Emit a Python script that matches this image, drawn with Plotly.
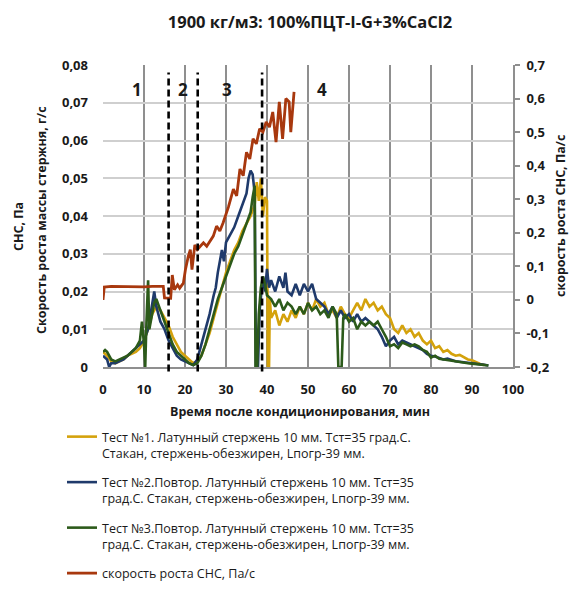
import plotly.graph_objects as go

# ---------------- data ----------------
t1_x = [0, 1, 2, 3, 4, 5, 6, 7, 8, 9, 10, 11, 12, 13, 14, 15, 16, 17, 18, 19, 20, 21, 22, 23, 24, 25, 26, 27, 28, 29,
        30, 31, 32, 33, 34, 35, 36, 37, 37.5, 38, 38.5, 39, 39.5, 40, 40.2, 40.5, 40.7, 41, 42, 43, 44, 45, 46, 47, 48,
        49, 50, 51, 52, 53, 54, 55, 56, 57, 58, 59, 60, 61, 62, 63, 64, 65, 66, 67, 68, 69, 70, 71, 72, 73, 74, 75, 76,
        77, 78, 79, 80, 81, 82, 83, 84, 85, 86, 87, 88, 89, 90, 91, 92, 93]
t1_y = [0.004, 0.003, 0.0015, 0.001, 0.0015, 0.002, 0.003, 0.0035, 0.004, 0.005, 0.007, 0.010, 0.014, 0.016, 0.015,
        0.013, 0.011, 0.008, 0.006, 0.004, 0.003, 0.002, 0.001, 0.0015, 0.003, 0.006, 0.009, 0.013, 0.017, 0.021,
        0.025, 0.028, 0.031, 0.033, 0.036, 0.038, 0.040, 0.043, 0.049, 0.044, 0.050, 0.040, 0.045, 0.044, 0.0, 0.0,
        0.018, 0.013, 0.015, 0.011, 0.014, 0.012, 0.015, 0.013, 0.016, 0.014, 0.017, 0.015, 0.018, 0.016, 0.017,
        0.014, 0.015, 0.013, 0.016, 0.014, 0.013, 0.015, 0.017, 0.015, 0.018, 0.016, 0.017, 0.015, 0.016, 0.014,
        0.013, 0.010, 0.009, 0.011, 0.009, 0.010, 0.008, 0.009, 0.007, 0.006, 0.007, 0.005, 0.0055, 0.004, 0.0045,
        0.0035, 0.003, 0.0032, 0.0025, 0.002, 0.0018, 0.0012, 0.0008, 0.0005]

t2_x = [0, 1, 1.5, 2, 3, 4, 5, 6, 7, 8, 9, 10, 11, 12, 12.5, 13, 14, 15, 16, 17, 18, 19, 20, 21, 22, 23, 24, 25, 26,
        27, 27.5, 28, 29, 29.5, 30, 31, 32, 33, 34, 35, 35.5, 36, 36.5, 37, 37.3, 37.8, 38.2, 38.6, 39, 39.5, 40,
        40.5, 41, 42, 43, 44, 44.5, 45, 46, 47, 48, 49, 50, 51, 52, 53, 54, 55, 56, 57, 58, 59, 60, 61, 62, 63, 64,
        65, 66, 67, 68, 69, 70, 71, 72, 73, 74, 75, 76, 77, 78, 79, 80, 81, 82, 83, 84, 85, 86, 87, 88, 89, 90, 91,
        92, 93, 94]
t2_y = [0.003, 0.002, 0.0, 0.001, 0.001, 0.0015, 0.002, 0.003, 0.004, 0.005, 0.006, 0.007, 0.010, 0.017, 0.020,
        0.016, 0.012, 0.010, 0.007, 0.005, 0.003, 0.002, 0.0015, 0.001, 0.0005, 0.002, 0.006, 0.010, 0.014, 0.019,
        0.021, 0.025, 0.031, 0.028, 0.033, 0.035, 0.037, 0.040, 0.043, 0.046, 0.050, 0.052, 0.051, 0.046, 0.0, 0.0,
        0.015, 0.020, 0.024, 0.020, 0.026, 0.021, 0.023, 0.020, 0.024, 0.021, 0.025, 0.020, 0.019, 0.022, 0.019,
        0.022, 0.020, 0.022, 0.018, 0.017, 0.016, 0.014, 0.016, 0.013, 0.015, 0.013, 0.014, 0.012, 0.014, 0.012,
        0.013, 0.012, 0.011, 0.010, 0.008, 0.0055, 0.007, 0.008, 0.006, 0.007, 0.0065, 0.006, 0.0055, 0.005, 0.0045,
        0.0035, 0.003, 0.0028, 0.0025, 0.002, 0.0022, 0.0018, 0.0015, 0.0014, 0.0013, 0.0012, 0.001, 0.001, 0.0008,
        0.0006, 0.0004]

t3_x = [0, 0.5, 1, 2, 3, 4, 5, 6, 7, 8, 9, 9.5, 10, 10.3, 10.6, 11, 11.3, 12, 12.5, 13, 14, 15, 16, 17, 18, 19, 20,
        21, 22, 23, 24, 25, 26, 27, 28, 29, 30, 31, 32, 33, 34, 35, 36, 36.5, 37, 37.2, 37.6, 38, 38.5, 39, 39.5,
        40, 41, 42, 43, 44, 45, 46, 47, 48, 49, 50, 51, 52, 53, 54, 55, 56, 57, 57.4, 58.2, 58.6, 59, 60, 61, 62, 63,
        64, 65, 66, 67, 68, 69, 70, 71, 72, 73, 74, 75, 76, 77, 78, 79, 80, 81, 82, 83, 84, 85, 86, 87, 88, 89, 90,
        91, 92, 93, 94]
t3_y = [0.004, 0.0045, 0.004, 0.002, 0.0015, 0.002, 0.0025, 0.003, 0.004, 0.005, 0.007, 0.012, 0.006, 0.0, 0.012,
        0.023, 0.010, 0.014, 0.017, 0.018, 0.015, 0.012, 0.009, 0.006, 0.004, 0.003, 0.002, 0.001, 0.0005, 0.001,
        0.003, 0.006, 0.010, 0.014, 0.018, 0.021, 0.024, 0.027, 0.030, 0.032, 0.035, 0.038, 0.041, 0.045, 0.048,
        0.0, 0.0, 0.014, 0.021, 0.024, 0.022, 0.019, 0.018, 0.016, 0.018, 0.015, 0.017, 0.016, 0.014, 0.016, 0.014,
        0.017, 0.015, 0.016, 0.014, 0.015, 0.013, 0.016, 0.014, 0.0, 0.0, 0.013, 0.014, 0.012, 0.013, 0.010, 0.012,
        0.011, 0.012, 0.011, 0.012, 0.010, 0.008, 0.0055, 0.006, 0.005, 0.0065, 0.006, 0.0055, 0.006, 0.0055,
        0.0045, 0.004, 0.0025, 0.003, 0.0022, 0.002, 0.0018, 0.0016, 0.0015, 0.0013, 0.0012, 0.001, 0.0009,
        0.0008, 0.0006, 0.0005, 0.0004]

sns_x = [0, 0.3, 2, 5, 8, 10, 12, 14.7, 15.0, 16.0, 16.5, 16.9, 17.4, 18.2, 18.7, 19.6, 20.1, 20.8, 21.3, 21.7, 22.4,
         23.0, 23.8, 24.5, 25.3, 26.1, 26.9, 27.7, 28.5, 29.3, 30.6, 31.8, 32.6, 33.4, 34.2, 35.0, 35.8, 36.6, 37.4,
         38.2, 39.0, 39.8, 40.6, 41.4, 42.2, 43.0, 43.8, 44.6, 45.4, 45.8, 46.6]
sns_y = [0.0, 0.038, 0.040, 0.039, 0.040, 0.039, 0.040, 0.040, 0.006, 0.004, 0.005, 0.074, 0.030, 0.045, 0.035,
         0.050, 0.090, 0.130, 0.150, 0.090, 0.164, 0.150, 0.160, 0.170, 0.160, 0.175, 0.190, 0.220, 0.205, 0.230,
         0.277, 0.330, 0.310, 0.390, 0.370, 0.440, 0.420, 0.480, 0.465, 0.510, 0.500, 0.530, 0.515, 0.560, 0.470,
         0.590, 0.480, 0.600, 0.590, 0.500, 0.620]

stage_bounds = [16.0, 23.1, 38.8]
stage_labels = ["1", "2", "3", "4"]
stage_label_x = [8.3, 19.6, 30.2, 53.5]

x_ticks = [0, 10, 20, 30, 40, 50, 60, 70, 80, 90, 100]
y_ticks = [0, 0.01, 0.02, 0.03, 0.04, 0.05, 0.06, 0.07, 0.08]
y_tick_text = ["0", "0,01", "0,02", "0,03", "0,04", "0,05", "0,06", "0,07", "0,08"]
y2_ticks = [-0.2, -0.1, 0, 0.1, 0.2, 0.3, 0.4, 0.5, 0.6, 0.7]
y2_tick_text = ["-0,2", "-0,1", "0", "0,1", "0,2", "0,3", "0,4", "0,5", "0,6", "0,7"]

names = [
    "Тест №1. Латунный стержень 10 мм. Тст=35 град.С.<br>Стакан, стержень-обезжирен, Lпогр-39 мм.",
    "Тест №2.Повтор. Латунный стержень 10 мм. Тст=35<br>град.С. Стакан, стержень-обезжирен, Lпогр-39 мм.",
    "Тест №3.Повтор. Латунный стержень 10 мм. Тст=35<br>град.С. Стакан, стержень-обезжирен, Lпогр-39 мм.",
    "скорость роста СНС, Па/с",
]
colors = ["#D4A20C", "#1F3A6B", "#2C5A1A", "#A8380E"]

FONT = "Open Sans, Noto Sans, sans-serif"
TXT = "#1a1a1a"

fig = go.Figure()
for i, (xs, ys) in enumerate([(t1_x, t1_y), (t2_x, t2_y), (t3_x, t3_y)]):
    fig.add_trace(go.Scatter(x=xs, y=ys, mode="lines", name=names[i], legendgroup=f"g{i}",
                             line=dict(color=colors[i], width=2.6)))
fig.add_trace(go.Scatter(x=sns_x, y=sns_y, mode="lines", name=names[3], yaxis="y2", legendgroup="g3",
                         line=dict(color=colors[3], width=2.8)))

shapes = []
for b in stage_bounds:
    shapes.append(dict(type="line", xref="x", yref="paper", x0=b, x1=b, y0=-0.015, y1=0.975,
                       line=dict(color="black", width=2.6, dash="7px,4px"), layer="above"))

annotations = []
for lab, lx in zip(stage_labels, stage_label_x):
    annotations.append(dict(x=lx, y=0.0735, xref="x", yref="y", text=f"<b>{lab}</b>", showarrow=False,
                            font=dict(family=FONT, size=17, color=TXT)))
annotations += [
    dict(x=(300 - 103) / 410, y=-(411 - 367) / 302, xref="paper", yref="paper",
         text="<b>Время после кондиционирования, мин</b>", showarrow=False,
         font=dict(family=FONT, size=12.5, color=TXT), xanchor="center", yanchor="middle"),
    dict(x=(41 - 103) / 410, y=(367 - 220) / 302, xref="paper", yref="paper",
         text="<b>Скорость роста массы стержня, г/с</b>", showarrow=False, textangle=-90,
         font=dict(family=FONT, size=12.5, color=TXT), xanchor="center", yanchor="middle"),
    dict(x=(18 - 103) / 410, y=(367 - 227) / 302, xref="paper", yref="paper",
         text="<b>СНС, Па</b>", showarrow=False, textangle=-90,
         font=dict(family=FONT, size=12.5, color=TXT), xanchor="center", yanchor="middle"),
    dict(x=(560 - 103) / 410, y=(367 - 216) / 302, xref="paper", yref="paper",
         text="<b>скорость роста СНС, Па/с</b>", showarrow=False, textangle=-90,
         font=dict(family=FONT, size=12.5, color=TXT), xanchor="center", yanchor="middle"),
]

fig.update_layout(
    width=572, height=590,
    margin=dict(l=103, r=59, t=65, b=223, autoexpand=False),
    paper_bgcolor="white", plot_bgcolor="white",
    font=dict(family=FONT, color=TXT),
    title=dict(text="<b>1900 кг/м3: 100%ПЦТ-I-G+3%CaCl2</b>", x=310 / 572, y=1 - 22 / 590,
               xanchor="center", yanchor="middle", font=dict(family=FONT, size=16.5, color=TXT)),
    xaxis=dict(range=[0, 100], tickvals=x_ticks, showgrid=True, gridcolor="#8f8f8f", gridwidth=1.6,
               zeroline=False, showline=True, linecolor="#8f8f8f", linewidth=1.6, ticks="",
               ticklabelstandoff=10, tickfont=dict(family=FONT, size=13, color=TXT, weight="bold")),
    yaxis=dict(range=[0, 0.08], tickvals=y_ticks, ticktext=y_tick_text, showgrid=True, gridcolor="#cfcfcf",
               gridwidth=1.5, zeroline=False, ticks="", ticklabelstandoff=14,
               tickfont=dict(family=FONT, size=13, color=TXT, weight="bold")),
    yaxis2=dict(range=[-0.2, 0.7], overlaying="y", side="right", tickvals=y2_ticks, ticktext=y2_tick_text,
                showgrid=False, zeroline=False, showline=True, linecolor="#8f8f8f", linewidth=1.6,
                ticks="outside", ticklen=5, tickcolor="#8f8f8f", tickwidth=1.5, ticklabelstandoff=4,
                tickfont=dict(family=FONT, size=13, color=TXT, weight="bold")),
    showlegend=True,
    legend=dict(xref="container", yref="container", x=62 / 572, y=1 - 422 / 590,
                xanchor="left", yanchor="top",
                font=dict(family=FONT, size=12.5, color=TXT), valign="top", tracegroupgap=10,
                bgcolor="rgba(0,0,0,0)", itemwidth=30),
    shapes=shapes,
    annotations=annotations,
)

fig.write_html("out.html")
